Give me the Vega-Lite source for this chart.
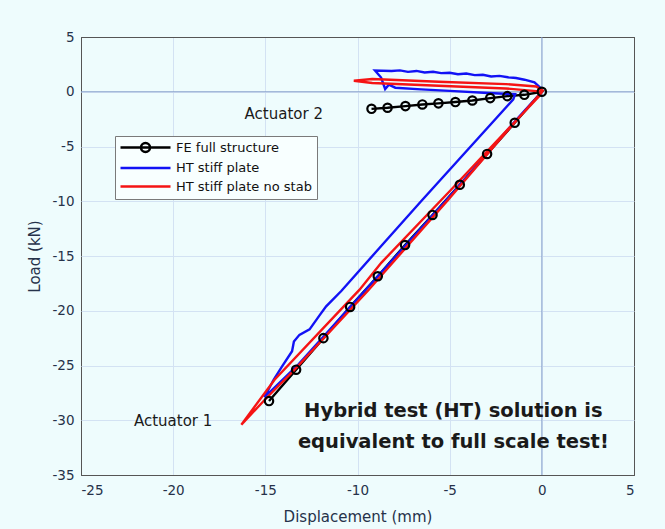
{
 "$schema": "https://vega.github.io/schema/vega-lite/v6.json",
 "width": 553,
 "height": 438,
 "autosize": {"type": "none"},
 "padding": {"left": 81, "top": 37, "right": 31, "bottom": 54},
 "background": "#eefcfd",
 "config": {
  "view": {"stroke": "#4a4a4a", "strokeWidth": 1},
  "axis": {
   "labelFont": "DejaVu Sans",
   "labelFontSize": 13.5,
   "labelColor": "#26324a",
   "titleFont": "DejaVu Sans",
   "titleFontSize": 15,
   "titleFontWeight": "normal",
   "titleColor": "#26324a",
   "gridWidth": 1,
   "gridOpacity": 1,
   "domain": false,
   "ticks": false,
   "labelExpr": "replace(datum.label, '\u2212', '-')"
  }
 },
 "datasets": {
  "curves": [
   {"s": "FE full structure", "o": 1, "x": -9.24, "y": -1.56},
   {"s": "FE full structure", "o": 2, "x": -8.37, "y": -1.46},
   {"s": "FE full structure", "o": 3, "x": -7.4, "y": -1.31},
   {"s": "FE full structure", "o": 4, "x": -6.48, "y": -1.16},
   {"s": "FE full structure", "o": 5, "x": -5.61, "y": -1.06},
   {"s": "FE full structure", "o": 6, "x": -4.69, "y": -0.94},
   {"s": "FE full structure", "o": 7, "x": -3.77, "y": -0.8},
   {"s": "FE full structure", "o": 8, "x": -2.8, "y": -0.58},
   {"s": "FE full structure", "o": 9, "x": -1.87, "y": -0.4},
   {"s": "FE full structure", "o": 10, "x": -0.95, "y": -0.28},
   {"s": "FE full structure", "o": 11, "x": 0, "y": 0},
   {"s": "FE full structure", "o": 12, "x": -1.47, "y": -2.83},
   {"s": "FE full structure", "o": 13, "x": -2.97, "y": -5.68},
   {"s": "FE full structure", "o": 14, "x": -4.45, "y": -8.5},
   {"s": "FE full structure", "o": 15, "x": -5.93, "y": -11.25},
   {"s": "FE full structure", "o": 16, "x": -7.42, "y": -14.0},
   {"s": "FE full structure", "o": 17, "x": -8.9, "y": -16.85},
   {"s": "FE full structure", "o": 18, "x": -10.4, "y": -19.65},
   {"s": "FE full structure", "o": 19, "x": -11.85, "y": -22.5},
   {"s": "FE full structure", "o": 20, "x": -13.33, "y": -25.38},
   {"s": "FE full structure", "o": 21, "x": -14.8, "y": -28.25},

   {"s": "HT stiff plate", "o": 1, "x": 0, "y": 0},
   {"s": "HT stiff plate", "o": 2, "x": -0.1, "y": 0.4},
   {"s": "HT stiff plate", "o": 3, "x": -0.4, "y": 0.85},
   {"s": "HT stiff plate", "o": 4, "x": -0.94, "y": 1.1},
   {"s": "HT stiff plate", "o": 5, "x": -1.4, "y": 1.25},
   {"s": "HT stiff plate", "o": 6, "x": -1.84, "y": 1.32},
   {"s": "HT stiff plate", "o": 7, "x": -2.3, "y": 1.45},
   {"s": "HT stiff plate", "o": 8, "x": -2.75, "y": 1.4},
   {"s": "HT stiff plate", "o": 9, "x": -3.2, "y": 1.55},
   {"s": "HT stiff plate", "o": 10, "x": -3.64, "y": 1.52},
   {"s": "HT stiff plate", "o": 11, "x": -4.1, "y": 1.66},
   {"s": "HT stiff plate", "o": 12, "x": -4.55, "y": 1.6},
   {"s": "HT stiff plate", "o": 13, "x": -5.0, "y": 1.74},
   {"s": "HT stiff plate", "o": 14, "x": -5.46, "y": 1.7},
   {"s": "HT stiff plate", "o": 15, "x": -5.9, "y": 1.82},
   {"s": "HT stiff plate", "o": 16, "x": -6.36, "y": 1.76},
   {"s": "HT stiff plate", "o": 17, "x": -6.8, "y": 1.9},
   {"s": "HT stiff plate", "o": 18, "x": -7.26, "y": 1.82},
   {"s": "HT stiff plate", "o": 19, "x": -7.7, "y": 1.95},
   {"s": "HT stiff plate", "o": 20, "x": -8.15, "y": 1.9},
   {"s": "HT stiff plate", "o": 21, "x": -9.05, "y": 1.93},
   {"s": "HT stiff plate", "o": 22, "x": -8.72, "y": 1.3},
   {"s": "HT stiff plate", "o": 23, "x": -8.5, "y": 0.25},
   {"s": "HT stiff plate", "o": 24, "x": -8.3, "y": 0.65},
   {"s": "HT stiff plate", "o": 25, "x": -7.95, "y": 0.37},
   {"s": "HT stiff plate", "o": 26, "x": -6.55, "y": 0.22},
   {"s": "HT stiff plate", "o": 27, "x": -4.74, "y": 0.06},
   {"s": "HT stiff plate", "o": 28, "x": -2.93, "y": -0.12},
   {"s": "HT stiff plate", "o": 29, "x": -1.45, "y": -0.22},
   {"s": "HT stiff plate", "o": 30, "x": -1.55, "y": -0.7},
   {"s": "HT stiff plate", "o": 31, "x": -6.55, "y": -10.0},
   {"s": "HT stiff plate", "o": 32, "x": -8.81, "y": -14.27},
   {"s": "HT stiff plate", "o": 33, "x": -10.88, "y": -18.2},
   {"s": "HT stiff plate", "o": 34, "x": -11.7, "y": -19.6},
   {"s": "HT stiff plate", "o": 35, "x": -12.05, "y": -20.4},
   {"s": "HT stiff plate", "o": 36, "x": -12.6, "y": -21.7},
   {"s": "HT stiff plate", "o": 37, "x": -13.15, "y": -22.2},
   {"s": "HT stiff plate", "o": 38, "x": -13.45, "y": -22.8},
   {"s": "HT stiff plate", "o": 39, "x": -13.55, "y": -23.7},
   {"s": "HT stiff plate", "o": 40, "x": -14.1, "y": -25.1},
   {"s": "HT stiff plate", "o": 41, "x": -14.55, "y": -26.3},
   {"s": "HT stiff plate", "o": 42, "x": -15.05, "y": -27.9},
   {"s": "HT stiff plate", "o": 43, "x": -13.2, "y": -24.9},
   {"s": "HT stiff plate", "o": 44, "x": -9.35, "y": -17.7},
   {"s": "HT stiff plate", "o": 45, "x": -4.6, "y": -8.8},
   {"s": "HT stiff plate", "o": 46, "x": -1.3, "y": -2.4},
   {"s": "HT stiff plate", "o": 47, "x": 0, "y": 0},

   {"s": "HT stiff plate no stab", "o": 1, "x": 0, "y": 0},
   {"s": "HT stiff plate no stab", "o": 2, "x": -0.3, "y": 0.06},
   {"s": "HT stiff plate no stab", "o": 3, "x": -1.95, "y": 0.3},
   {"s": "HT stiff plate no stab", "o": 4, "x": -5.6, "y": 0.55},
   {"s": "HT stiff plate no stab", "o": 5, "x": -9.2, "y": 0.8},
   {"s": "HT stiff plate no stab", "o": 6, "x": -10.2, "y": 1.0},
   {"s": "HT stiff plate no stab", "o": 7, "x": -9.2, "y": 1.16},
   {"s": "HT stiff plate no stab", "o": 8, "x": -5.6, "y": 0.91},
   {"s": "HT stiff plate no stab", "o": 9, "x": -1.95, "y": 0.7},
   {"s": "HT stiff plate no stab", "o": 10, "x": -0.3, "y": 0.48},
   {"s": "HT stiff plate no stab", "o": 11, "x": 0.05, "y": 0.1},
   {"s": "HT stiff plate no stab", "o": 12, "x": -0.15, "y": -0.4},
   {"s": "HT stiff plate no stab", "o": 13, "x": -4.95, "y": -9.0},
   {"s": "HT stiff plate no stab", "o": 14, "x": -8.7, "y": -15.6},
   {"s": "HT stiff plate no stab", "o": 15, "x": -9.9, "y": -18.1},
   {"s": "HT stiff plate no stab", "o": 16, "x": -14.5, "y": -26.3},
   {"s": "HT stiff plate no stab", "o": 17, "x": -16.3, "y": -30.4},
   {"s": "HT stiff plate no stab", "o": 18, "x": -14.9, "y": -27.9},
   {"s": "HT stiff plate no stab", "o": 19, "x": -13.45, "y": -25.45},
   {"s": "HT stiff plate no stab", "o": 20, "x": -9.4, "y": -18.1},
   {"s": "HT stiff plate no stab", "o": 21, "x": -5.1, "y": -9.9},
   {"s": "HT stiff plate no stab", "o": 22, "x": -2.3, "y": -4.4},
   {"s": "HT stiff plate no stab", "o": 23, "x": 0, "y": 0}
  ],
  "notes": [
   {"x": -14.0, "y": -2.05, "t": "Actuator 2", "k": "small"},
   {"x": -20.0, "y": -30.1, "t": "Actuator 1", "k": "small"},
   {"x": -4.8, "y": -29.2, "t": "Hybrid test (HT) solution is", "k": "big"},
   {"x": -4.8, "y": -31.95, "t": "equivalent to full scale test!", "k": "big"}
  ]
 },
 "layer": [
  {
   "data": {"values": [{"z": 0}]},
   "mark": {"type": "rule", "color": "#8aa3cc", "strokeWidth": 1},
   "encoding": {"x": {"field": "z", "type": "quantitative"}}
  },
  {
   "data": {"values": [{"z": 0}]},
   "mark": {"type": "rule", "color": "#8aa3cc", "strokeWidth": 1},
   "encoding": {"y": {"field": "z", "type": "quantitative"}}
  },
  {
   "data": {"name": "curves"},
   "mark": {"type": "line", "strokeWidth": 2.4, "clip": true},
   "encoding": {
    "x": {
     "field": "x", "type": "quantitative",
     "scale": {"domain": [-25, 5], "nice": false, "zero": false},
     "axis": {
      "values": [-25, -20, -15, -10, -5, 0, 5],
      "title": "Displacement (mm)",
      "labelPadding": 8,
      "titlePadding": 13,
      "grid": true,
      "gridColor": {"condition": {"test": "datum.value === -25 || datum.value === 5", "value": "#555555"}, "value": "#d3e2f3"}
     }
    },
    "y": {
     "field": "y", "type": "quantitative",
     "scale": {"domain": [-35, 5], "nice": false, "zero": false},
     "axis": {
      "values": [-35, -30, -25, -20, -15, -10, -5, 0, 5],
      "title": "Load (kN)",
      "labelPadding": 7,
      "titlePadding": 9,
      "grid": true,
      "gridColor": {"condition": {"test": "datum.value === -35 || datum.value === 5", "value": "#555555"}, "value": "#d3e2f3"}
     }
    },
    "order": {"field": "o", "type": "quantitative"},
    "color": {
     "field": "s", "type": "nominal",
     "scale": {
      "domain": ["FE full structure", "HT stiff plate", "HT stiff plate no stab"],
      "range": ["#000000", "#1212f5", "#f51414"]
     },
     "legend": {
      "orient": "none",
      "legendX": 34,
      "legendY": 99,
      "title": null,
      "labelFont": "DejaVu Sans",
      "labelFontSize": 13,
      "labelColor": "#111111",
      "fillColor": "#f8ffff",
      "strokeColor": "#7a7a7a",
      "padding": 5,
      "rowPadding": 4.5,
      "symbolOffset": 19,
      "labelOffset": 24,
      "encode": {
       "symbols": {
        "update": {
         "shape": {"signal": "datum.value === 'FE full structure' ? 'M-5,0H5M0.9,0A0.9,0.9,0,1,1,-0.9,0A0.9,0.9,0,1,1,0.9,0' : 'M-5,0H5'"},
         "size": {"value": 100},
         "strokeWidth": {"value": 2.5},
         "fill": {"value": "transparent"}
        }
       }
      }
     }
    }
   }
  },
  {
   "data": {"name": "curves"},
   "transform": [{"filter": "datum.s === 'FE full structure'"}],
   "mark": {"type": "point", "shape": "circle", "size": 70, "stroke": "#000000", "strokeWidth": 2.2, "filled": false, "opacity": 1},
   "encoding": {
    "x": {"field": "x", "type": "quantitative"},
    "y": {"field": "y", "type": "quantitative"}
   }
  },
  {
   "data": {"name": "notes"},
   "transform": [{"filter": "datum.k === 'small'"}],
   "mark": {"type": "text", "font": "DejaVu Sans", "fontSize": 15, "color": "#1a1a1a", "align": "center", "baseline": "middle"},
   "encoding": {
    "x": {"field": "x", "type": "quantitative"},
    "y": {"field": "y", "type": "quantitative"},
    "text": {"field": "t"}
   }
  },
  {
   "data": {"name": "notes"},
   "transform": [{"filter": "datum.k === 'big'"}],
   "mark": {"type": "text", "font": "DejaVu Sans", "fontWeight": "bold", "fontSize": 19.5, "color": "#1a1a1a", "align": "center", "baseline": "middle"},
   "encoding": {
    "x": {"field": "x", "type": "quantitative"},
    "y": {"field": "y", "type": "quantitative"},
    "text": {"field": "t"}
   }
  }
 ]
}
